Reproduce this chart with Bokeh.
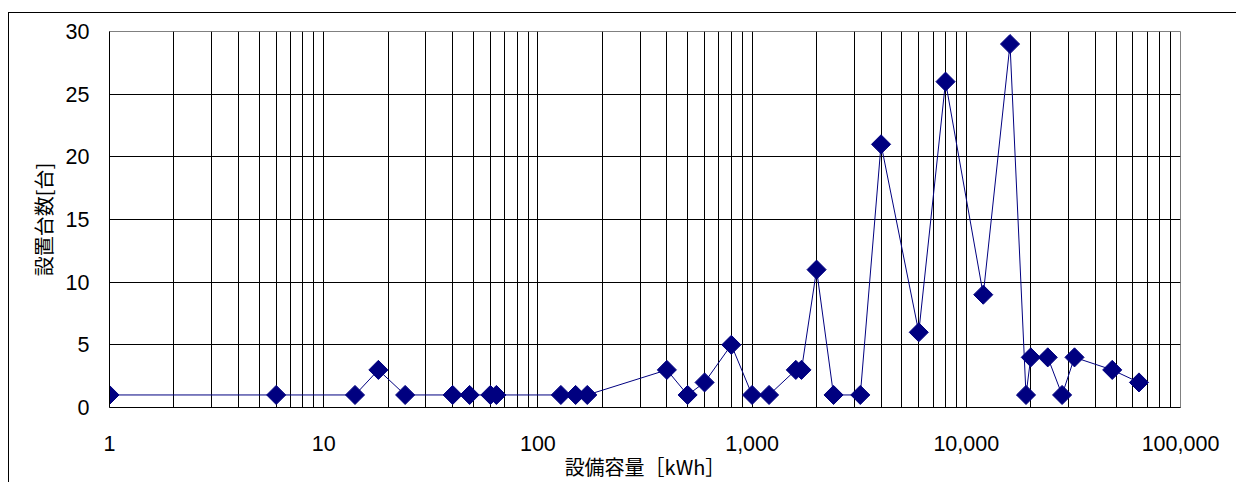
from bokeh.plotting import figure
from bokeh.models import FixedTicker, Spacer
from bokeh.layouts import column, row
from bokeh.embed import file_html
from bokeh.resources import INLINE

# ---- data ----
capacity_kwh = [1, 6, 14, 18, 24, 40, 48, 60, 64, 128, 150, 170,
                400, 500, 600, 800, 1000, 1200, 1600, 1700, 2000, 2400,
                3200, 4000, 6000, 8000, 12000, 16000, 19000, 20000,
                24000, 28000, 32000, 48000, 64000]
units = [1, 1, 1, 3, 1, 1, 1, 1, 1, 1, 1, 1,
         3, 1, 2, 5, 1, 1, 3, 3, 11, 1,
         1, 21, 6, 26, 9, 29, 1, 4,
         4, 1, 4, 3, 2]

x_tick_values = [1, 10, 100, 1000, 10000, 100000]
x_tick_labels = ["1", "10", "100", "1,000", "10,000", "100,000"]
y_tick_values = [0, 5, 10, 15, 20, 25, 30]
x_title = "設備容量［kWh］"
y_title = "設置台数[台]"

minor_ticks = [m * d for d in x_tick_values[:-1] for m in range(2, 10)]

W, H = 1228, 470
p = figure(width=W, height=H, x_axis_type="log",
           x_range=(1, 100000), y_range=(0, 30),
           output_backend="svg", toolbar_location=None,
           min_border_left=100, min_border_right=57,
           min_border_top=18, min_border_bottom=76)
p.background_fill_color = "white"
p.border_fill_color = "white"
p.outline_line_color = "#808080"
p.outline_line_width = 1
p.styles = {"border-left": "1px solid #000000", "border-top": "1px solid #000000"}

# axes
p.xaxis.ticker = FixedTicker(ticks=x_tick_values, minor_ticks=minor_ticks)
p.xaxis.major_label_overrides = {v: l for v, l in zip(x_tick_values, x_tick_labels)}
p.yaxis.ticker = FixedTicker(ticks=y_tick_values)
for ax in (p.xaxis[0], p.yaxis[0]):
    ax.axis_line_color = "black"
    ax.axis_line_width = 1
    ax.major_tick_line_color = None
    ax.minor_tick_line_color = None
    ax.major_tick_in = 0
    ax.major_tick_out = 0
    ax.major_label_text_font = "Liberation Sans"
    ax.major_label_text_font_size = "21.5px"
    ax.major_label_text_color = "black"
    ax.axis_label_text_font = "Noto Sans CJK JP"
    ax.axis_label_text_font_size = "20px"
    ax.axis_label_text_font_style = "normal"
    ax.axis_label_text_color = "black"

p.xaxis.axis_label = x_title
p.yaxis.axis_label = y_title
p.xaxis.major_label_standoff = 24
p.xaxis.axis_label_standoff = -2
p.yaxis.major_label_standoff = 20
p.yaxis.axis_label_standoff = 5

# grid
p.xgrid.grid_line_color = "black"
p.xgrid.grid_line_width = 1
p.xgrid.minor_grid_line_color = "black"
p.xgrid.minor_grid_line_width = 1
p.ygrid.grid_line_color = "black"
p.ygrid.grid_line_width = 1

# series
p.line(capacity_kwh, units, line_color="#000080", line_width=1)
p.scatter(capacity_kwh, units, marker="square", size=13.5, angle=0.785398,
          fill_color="#000080", line_color="#000080", line_width=1)

layout = column(Spacer(width=W + 8, height=12),
                row(Spacer(width=8, height=H), p))
open("out.html", "w").write(file_html(layout, INLINE))
